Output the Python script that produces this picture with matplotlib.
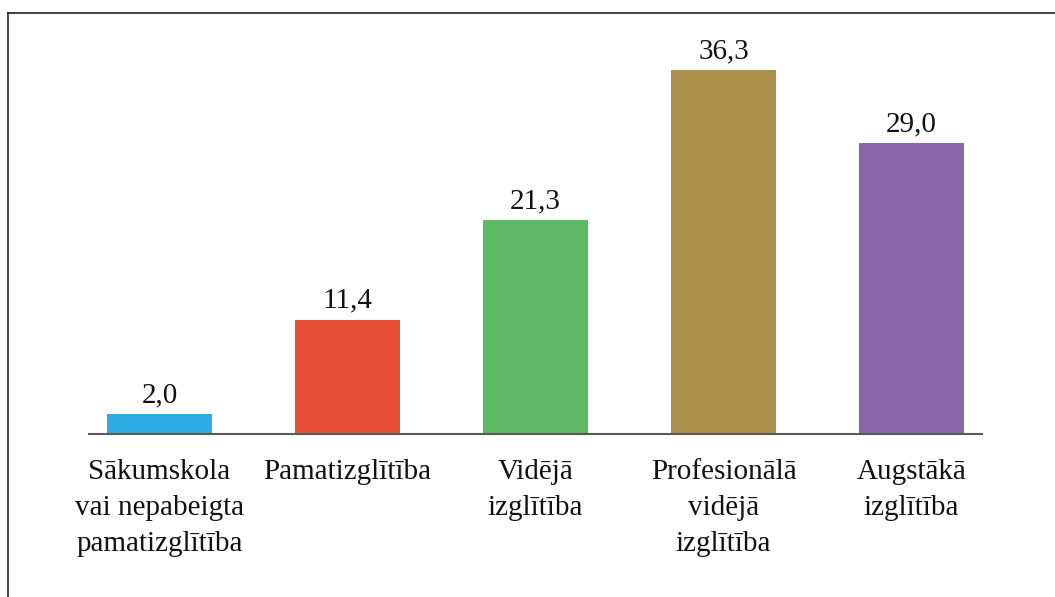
import numpy as np
import matplotlib.pyplot as plt
from matplotlib.lines import Line2D

categories = ["Sākumskola\nvai nepabeigta\npamatizglītība", "Pamatizglītība",
              "Vidējā\nizglītība", "Profesionālā\nvidējā\nizglītība",
              "Augstākā\nizglītība"]
values = [2.0, 11.4, 21.3, 36.3, 29.0]
colors = ["#2DABE3", "#E85137", "#5FB866", "#AB904C", "#8868A8"]

plt.rcParams['font.family'] = ['Liberation Serif', 'DejaVu Serif']

fig = plt.figure(figsize=(10.55, 5.97), dpi=100)
ax = fig.add_axes([89 / 1055, (597 - 434) / 597, 893 / 1055, 401 / 597])

x = np.arange(len(values))
ax.bar(x, values, width=0.56, color=colors, zorder=2)
for xi, v in zip(x, values):
    ax.text(xi, v + 0.6, f"{v:.1f}".replace(".", ","), ha="center", va="bottom",
            fontsize=21, color="#111111")

ax.set_xlim(-0.375, 4.375)
ax.set_ylim(0, 40)
ax.set_xticks(x)
ax.set_xticklabels(categories, fontsize=21, linespacing=1.5, color="#111111")
ax.tick_params(axis="x", length=0, pad=18)
ax.set_yticks([])
for s in ["top", "right", "left"]:
    ax.spines[s].set_visible(False)
ax.spines["bottom"].set_color("#595959")
ax.spines["bottom"].set_linewidth(1.5)

# outer frame (left and top edges visible)
fig.add_artist(Line2D([8 / 1055, 8 / 1055], [0, 1 - 13 / 597], transform=fig.transFigure,
                      color="#222222", lw=1.2))
fig.add_artist(Line2D([8 / 1055, 1], [1 - 13 / 597, 1 - 13 / 597], transform=fig.transFigure,
                      color="#222222", lw=1.2))

fig.savefig("out.png", dpi=100)
